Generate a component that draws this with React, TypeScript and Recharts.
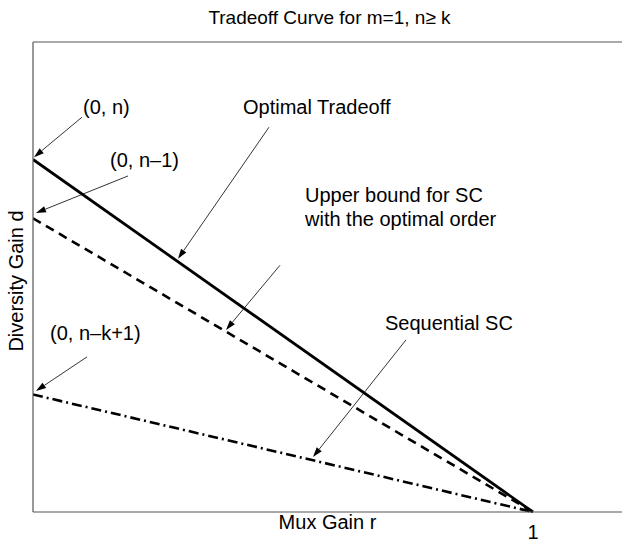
import React from 'react';
import { LineChart, Line, XAxis, YAxis, ReferenceLine, ReferenceDot } from 'recharts';

// Diversity–multiplexing tradeoff curves (m = 1, n = 6, k = 5)
const muxGain = [0, 1];
const optimalTradeoff = [6, 0];
const scUpperBound = [5, 0];
const sequentialSC = [2, 0];
const xTicks = [1];

const chartData = muxGain.map((r, i) => ({
  r,
  optimal: optimalTradeoff[i],
  upper: scUpperBound[i],
  sequential: sequentialSC[i],
}));

// Annotation text, anchored at (r, d) in data units
const noteLines = [
  ['(0, n)'],
  ['(0, n\u20131)'],
  ['(0, n\u2013k+1)'],
  ['Optimal Tradeoff'],
  ['Upper bound for SC', 'with the optimal order'],
  ['Sequential SC'],
];
const noteR = [0.1, 0.154, 0.034, 0.42, 0.544, 0.704];
const noteD = [6.9, 5.99, 3.05, 6.89, 5.4, 3.22];

// Arrow pointers: tail -> head, in data units
const arrowFromR = [0.098, 0.19, 0.108, 0.472, 0.494, 0.746];
const arrowFromD = [6.72, 5.72, 2.64, 6.55, 4.2, 2.93];
const arrowToR = [0.002, 0.006, 0.006, 0.29, 0.386, 0.56];
const arrowToD = [6.04, 5.09, 2.06, 4.31, 3.1, 0.936];

const FONT = "'Liberation Sans', Arial, Helvetica, sans-serif";
const AXIS = '#555';

const Arrow = (props: any) => {
  const { x1, y1, x2, y2 } = props;
  const ang = Math.atan2(y2 - y1, x2 - x1);
  const len = 10;
  const half = 3.2;
  const bx = x2 - len * Math.cos(ang);
  const by = y2 - len * Math.sin(ang);
  const px = half * Math.sin(ang);
  const py = half * Math.cos(ang);
  return (
    <g>
      <line x1={x1} y1={y1} x2={bx} y2={by} stroke="#000" strokeWidth={0.8} />
      <polygon points={`${x2},${y2} ${bx + px},${by - py} ${bx - px},${by + py}`} fill="#000" />
    </g>
  );
};

const makeNote = (lines: string[]) => (p: any) => (
  <text x={p.cx} y={p.cy} fontFamily={FONT} fontSize={20} fill="#000" dominantBaseline="central">
    {lines.map((t, i) => (
      <tspan key={i} x={p.cx} dy={i === 0 ? 0 : 24}>
        {t}
      </tspan>
    ))}
  </text>
);

export default function App() {
  return (
    <div style={{ position: 'absolute', left: 0, top: 0, width: 622, height: 544, overflow: 'hidden', background: '#fff' }}>
      <LineChart width={622} height={544} data={chartData} margin={{ top: 42, right: 0, bottom: 0, left: 0 }}>
        <XAxis
          dataKey="r"
          type="number"
          domain={[0, 1.178]}
          ticks={xTicks}
          allowDataOverflow
          tickLine={false}
          tickMargin={7}
          axisLine={{ stroke: AXIS, strokeWidth: 1.2 }}
          height={32}
          tick={{ fontSize: 20, fill: '#000', fontFamily: FONT }}
          label={{
            content: ({ viewBox }: any) => (
              <text
                x={viewBox.x + viewBox.width / 2}
                y={viewBox.y + 10}
                textAnchor="middle"
                dominantBaseline="central"
                fontFamily={FONT}
                fontSize={20}
                fill="#000"
              >
                Mux Gain r
              </text>
            ),
          }}
        />
        <YAxis
          type="number"
          domain={[0, 8]}
          width={33}
          tick={false}
          tickLine={false}
          axisLine={{ stroke: AXIS, strokeWidth: 1.2 }}
          label={{
            content: ({ viewBox }: any) => {
              const cx = 16;
              const cy = viewBox.y + viewBox.height / 2 + 4;
              return (
                <text
                  x={cx}
                  y={cy}
                  transform={`rotate(-90 ${cx} ${cy})`}
                  textAnchor="middle"
                  dominantBaseline="central"
                  fontFamily={FONT}
                  fontSize={20}
                  fill="#000"
                >
                  Diversity Gain d
                </text>
              );
            },
          }}
        />
        <ReferenceLine
          y={8}
          stroke={AXIS}
          strokeWidth={1.2}
          label={{
            content: ({ viewBox }: any) => (
              <text
                x={viewBox.x + viewBox.width / 2 + 2}
                y={17}
                textAnchor="middle"
                dominantBaseline="central"
                fontFamily={FONT}
                fontSize={19}
                fill="#000"
              >
                Tradeoff Curve for m=1, n≥ k
              </text>
            ),
          }}
        />
        <Line dataKey="optimal" type="linear" stroke="#000" strokeWidth={2.8} dot={false} isAnimationActive={false} />
        <Line
          dataKey="upper"
          type="linear"
          stroke="#000"
          strokeWidth={2.6}
          strokeDasharray="9 6"
          dot={false}
          isAnimationActive={false}
        />
        <Line
          dataKey="sequential"
          type="linear"
          stroke="#000"
          strokeWidth={2.6}
          strokeDasharray="10 4 2 4"
          dot={false}
          isAnimationActive={false}
        />
        {noteLines.map((_, i) => (
          <ReferenceLine
            key={`a${i}`}
            segment={[
              { x: arrowFromR[i], y: arrowFromD[i] },
              { x: arrowToR[i], y: arrowToD[i] },
            ]}
            ifOverflow="visible"
            shape={Arrow}
          />
        ))}
        {noteLines.map((lines, i) => (
          <ReferenceDot key={`t${i}`} x={noteR[i]} y={noteD[i]} r={0} ifOverflow="visible" shape={makeNote(lines)} />
        ))}
      </LineChart>
    </div>
  );
}
